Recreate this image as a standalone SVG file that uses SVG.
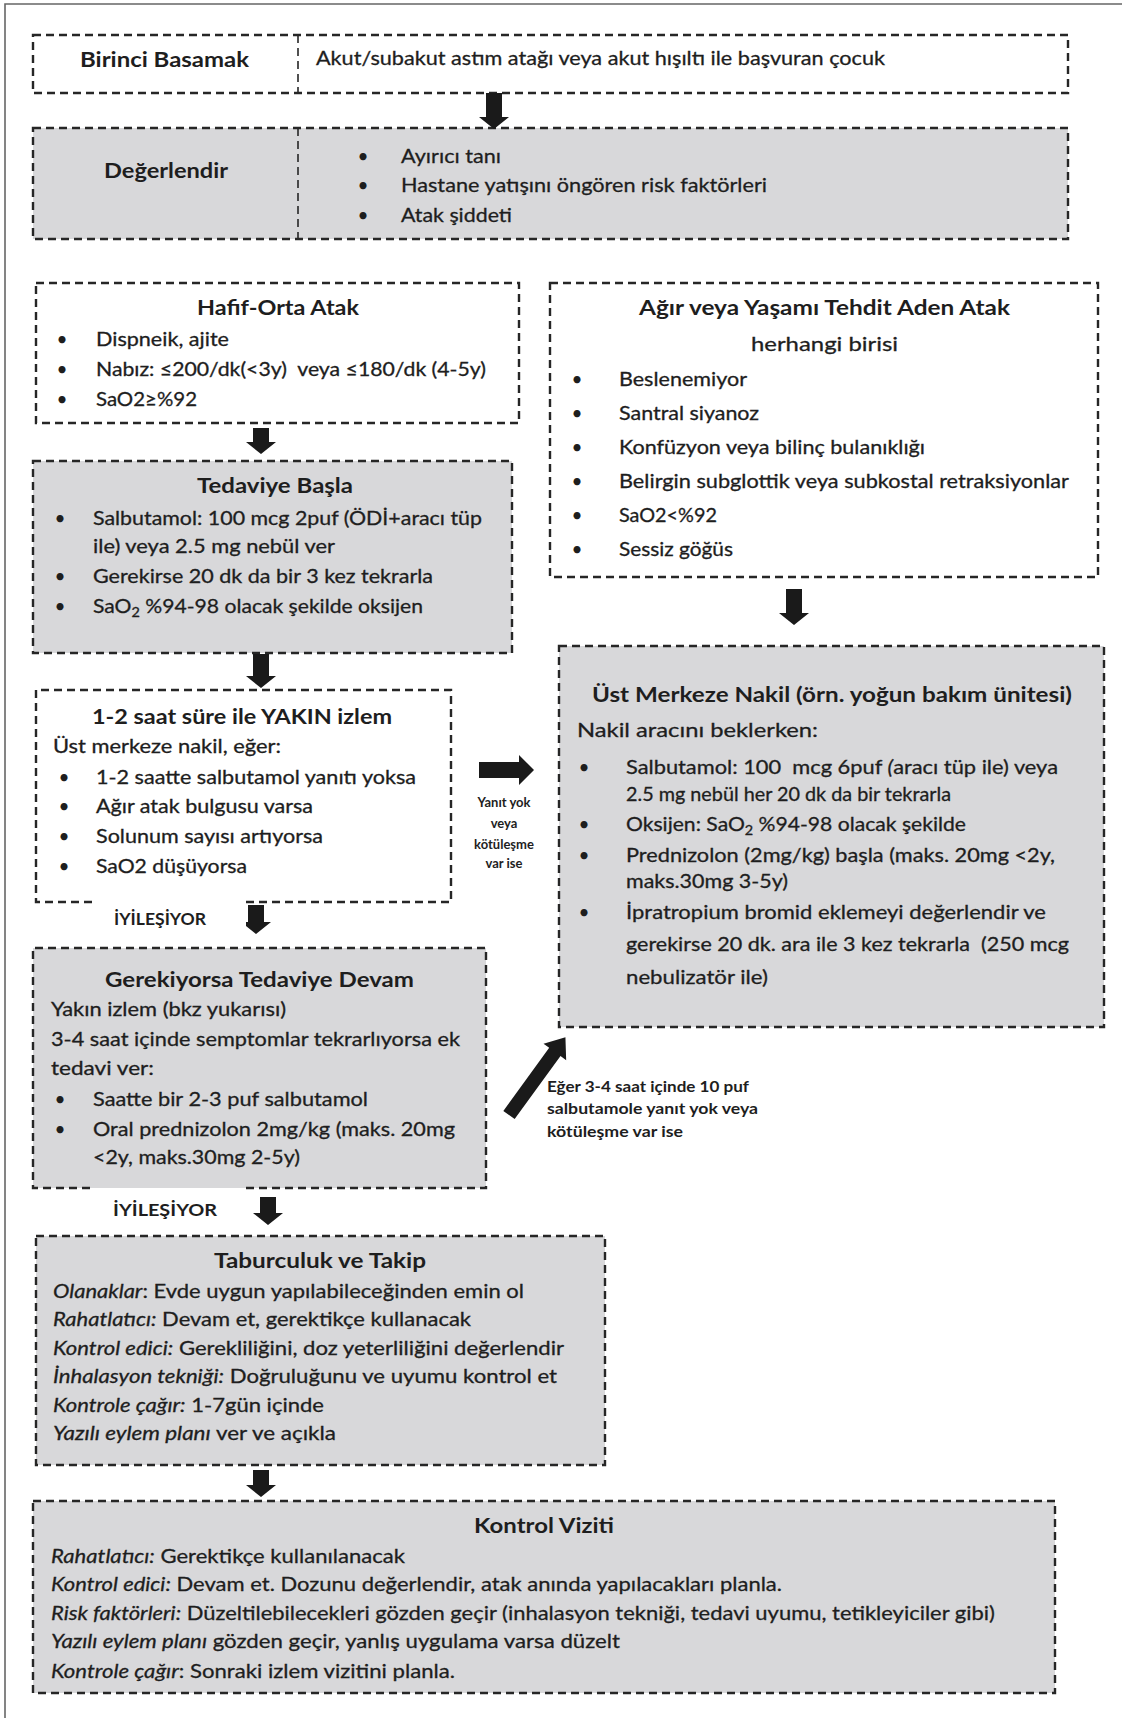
<svg xmlns="http://www.w3.org/2000/svg" width="1122" height="1718" viewBox="0 0 1122 1718">
  <style>
    .frame { fill: none; stroke: #666; stroke-width: 1.6; }
    .box { stroke: #262626; stroke-width: 2.4; stroke-dasharray: 8 5; }
    .plain { fill: #ffffff; }
    .grey { fill: #d8d8da; }
    .edge { fill: none; stroke: #262626; stroke-width: 2.4; stroke-dasharray: 8 5; }
    .fillonly { stroke: none; }
    .div { stroke: #262626; stroke-width: 1.6; stroke-dasharray: 8 5; }
    .arrow { fill: #1a1a1a; }
    text { font-family: Lato, "Open Sans", "Liberation Sans", sans-serif; fill: #1e1e1e; }
    .t { font-size: 19px; stroke: #1e1e1e; stroke-width: 0.3; }
    .tl { font-size: 20px; stroke: #1e1e1e; stroke-width: 0.3; }
    .h { font-size: 21px; font-weight: bold; }
    .bu { font-size: 19px; text-anchor: middle; }
    .i { font-style: italic; }
    .sub { font-size: 13px; }
    .lab { font-size: 13px; font-weight: bold; }
    .lab2 { font-size: 14.5px; font-weight: bold; }
    .lab3 { font-size: 17px; font-weight: bold; }
    .bg { fill: #ffffff; }
  </style>

  <!-- page frame: left and top rule only -->
  <path class="frame" d="M5,1718 V4 H1122"/>

  <g id="nodes">
    <g id="birinci-basamak">
      <rect class="box plain" x="33" y="35" width="1035" height="58"/>
      <line class="div" x1="298" y1="35" x2="298" y2="93"/>
      <text class="h" x="80" y="67" textLength="169" lengthAdjust="spacingAndGlyphs">Birinci Basamak</text>
      <text class="tl" x="316" y="65" textLength="569" lengthAdjust="spacingAndGlyphs">Akut/subakut astım atağı veya akut hışıltı ile başvuran çocuk</text>
    </g>

    <g id="degerlendir">
      <rect class="box grey" x="33" y="128" width="1035" height="111"/>
      <line class="div" x1="298" y1="128" x2="298" y2="239"/>
      <text class="h" x="104" y="178" textLength="124" lengthAdjust="spacingAndGlyphs">Değerlendir</text>
      <text class="bu" x="363" y="163">•</text>
      <text class="bu" x="363" y="192">•</text>
      <text class="bu" x="363" y="222">•</text>
      <text class="tl" x="401" y="163" textLength="100" lengthAdjust="spacingAndGlyphs">Ayırıcı tanı</text>
      <text class="tl" x="401" y="192" textLength="366" lengthAdjust="spacingAndGlyphs">Hastane yatışını öngören risk faktörleri</text>
      <text class="tl" x="401" y="222" textLength="111" lengthAdjust="spacingAndGlyphs">Atak şiddeti</text>
    </g>

    <g id="hafif-orta-atak">
      <rect class="box plain" x="36" y="283" width="483" height="140"/>
      <text class="h" x="197" y="315" textLength="162" lengthAdjust="spacingAndGlyphs">Hafif-Orta Atak</text>
      <text class="bu" x="62" y="346">•</text>
      <text class="bu" x="62" y="376">•</text>
      <text class="bu" x="62" y="406">•</text>
      <text class="t" x="96" y="346" textLength="133" lengthAdjust="spacingAndGlyphs">Dispneik, ajite</text>
      <text class="t" x="96" y="376" textLength="390" lengthAdjust="spacingAndGlyphs" xml:space="preserve">Nabız: ≤200/dk(&lt;3y)  veya ≤180/dk (4-5y)</text>
      <text class="t" x="96" y="406" textLength="101" lengthAdjust="spacingAndGlyphs">SaO2≥%92</text>
    </g>

    <g id="agir-atak">
      <rect class="box plain" x="550" y="283" width="548" height="294"/>
      <text class="h" x="639" y="315" textLength="371" lengthAdjust="spacingAndGlyphs">Ağır veya Yaşamı Tehdit Aden Atak</text>
      <text class="tl" x="751" y="351" textLength="147" lengthAdjust="spacingAndGlyphs">herhangi birisi</text>
      <text class="bu" x="577" y="386">•</text>
      <text class="bu" x="577" y="420">•</text>
      <text class="bu" x="577" y="454">•</text>
      <text class="bu" x="577" y="488">•</text>
      <text class="bu" x="577" y="522">•</text>
      <text class="bu" x="577" y="556">•</text>
      <text class="t" x="619" y="386" textLength="128" lengthAdjust="spacingAndGlyphs">Beslenemiyor</text>
      <text class="t" x="619" y="420" textLength="140" lengthAdjust="spacingAndGlyphs">Santral siyanoz</text>
      <text class="t" x="619" y="454" textLength="306" lengthAdjust="spacingAndGlyphs">Konfüzyon veya bilinç bulanıklığı</text>
      <text class="t" x="619" y="488" textLength="450" lengthAdjust="spacingAndGlyphs">Belirgin subglottik veya subkostal retraksiyonlar</text>
      <text class="t" x="619" y="522" textLength="98" lengthAdjust="spacingAndGlyphs">SaO2&lt;%92</text>
      <text class="t" x="619" y="556" textLength="114" lengthAdjust="spacingAndGlyphs">Sessiz göğüs</text>
    </g>

    <g id="tedaviye-basla">
      <rect class="box grey" x="33" y="461" width="479" height="192"/>
      <text class="h" x="197" y="493" textLength="156" lengthAdjust="spacingAndGlyphs">Tedaviye Başla</text>
      <text class="bu" x="60" y="525">•</text>
      <text class="bu" x="60" y="583">•</text>
      <text class="bu" x="60" y="613">•</text>
      <text class="t" x="93" y="525" textLength="389" lengthAdjust="spacingAndGlyphs">Salbutamol: 100 mcg 2puf (ÖDİ+aracı tüp</text>
      <text class="t" x="93" y="553" textLength="242" lengthAdjust="spacingAndGlyphs">ile) veya 2.5 mg nebül ver</text>
      <text class="t" x="93" y="583" textLength="340" lengthAdjust="spacingAndGlyphs">Gerekirse 20 dk da bir 3 kez tekrarla</text>
      <text class="t" x="93" y="613" textLength="330" lengthAdjust="spacingAndGlyphs">SaO<tspan class="sub" dy="4">2</tspan><tspan dy="-4"> %94-98 olacak şekilde oksijen</tspan></text>
    </g>

    <g id="yakin-izlem">
      <rect class="plain fillonly" x="36" y="690" width="415" height="212"/>
      <path class="edge" d="M246,902 H451 V690 H36 V902 H96"/>
      <text class="h" x="92" y="724" textLength="300" lengthAdjust="spacingAndGlyphs">1-2 saat süre ile YAKIN izlem</text>
      <text class="t" x="53" y="753" textLength="228" lengthAdjust="spacingAndGlyphs">Üst merkeze nakil, eğer:</text>
      <text class="bu" x="64" y="784">•</text>
      <text class="bu" x="64" y="813">•</text>
      <text class="bu" x="64" y="843">•</text>
      <text class="bu" x="64" y="873">•</text>
      <text class="t" x="96" y="784" textLength="320" lengthAdjust="spacingAndGlyphs">1-2 saatte salbutamol yanıtı yoksa</text>
      <text class="t" x="96" y="813" textLength="217" lengthAdjust="spacingAndGlyphs">Ağır atak bulgusu varsa</text>
      <text class="t" x="96" y="843" textLength="227" lengthAdjust="spacingAndGlyphs">Solunum sayısı artıyorsa</text>
      <text class="t" x="96" y="873" textLength="151" lengthAdjust="spacingAndGlyphs">SaO2 düşüyorsa</text>
    </g>

    <g id="ust-merkeze-nakil">
      <rect class="box grey" x="559" y="646" width="545" height="381"/>
      <text class="h" x="592" y="702" textLength="480" lengthAdjust="spacingAndGlyphs">Üst Merkeze Nakil (örn. yoğun bakım ünitesi)</text>
      <text class="tl" x="577" y="737" textLength="241" lengthAdjust="spacingAndGlyphs">Nakil aracını beklerken:</text>
      <text class="bu" x="584" y="774">•</text>
      <text class="bu" x="584" y="831">•</text>
      <text class="bu" x="584" y="862">•</text>
      <text class="bu" x="584" y="919">•</text>
      <text class="t" x="626" y="774" textLength="432" lengthAdjust="spacingAndGlyphs" xml:space="preserve">Salbutamol: 100  mcg 6puf <tspan class="i">(</tspan>aracı tüp ile) veya</text>
      <text class="t" x="626" y="801" textLength="325" lengthAdjust="spacingAndGlyphs">2.5 mg nebül her 20 dk da bir tekrarla</text>
      <text class="t" x="626" y="831" textLength="340" lengthAdjust="spacingAndGlyphs">Oksijen: SaO<tspan class="sub" dy="4">2</tspan><tspan dy="-4"> %94-98 olacak şekilde</tspan></text>
      <text class="t" x="626" y="862" textLength="429" lengthAdjust="spacingAndGlyphs">Prednizolon (2mg/kg) başla (maks. 20mg &lt;2y,</text>
      <text class="t" x="626" y="888" textLength="162" lengthAdjust="spacingAndGlyphs">maks.30mg 3-5y)</text>
      <text class="t" x="626" y="919" textLength="420" lengthAdjust="spacingAndGlyphs">İpratropium bromid eklemeyi değerlendir ve</text>
      <text class="t" x="626" y="951" textLength="443" lengthAdjust="spacingAndGlyphs" xml:space="preserve">gerekirse 20 dk. ara ile 3 kez tekrarla  (250 mcg</text>
      <text class="t" x="626" y="984" textLength="142" lengthAdjust="spacingAndGlyphs">nebulizatör ile)</text>
    </g>

    <g id="tedaviye-devam">
      <rect class="grey fillonly" x="33" y="948" width="453" height="240"/>
      <path class="edge" d="M246,1188 H486 V948 H33 V1188 H92"/>
      <text class="h" x="105" y="987" textLength="309" lengthAdjust="spacingAndGlyphs">Gerekiyorsa Tedaviye Devam</text>
      <text class="t" x="51" y="1016" textLength="235" lengthAdjust="spacingAndGlyphs">Yakın izlem (bkz yukarısı)</text>
      <text class="t" x="51" y="1046" textLength="409" lengthAdjust="spacingAndGlyphs">3-4 saat içinde semptomlar tekrarlıyorsa ek</text>
      <text class="t" x="51" y="1075" textLength="103" lengthAdjust="spacingAndGlyphs">tedavi ver:</text>
      <text class="bu" x="60" y="1106">•</text>
      <text class="bu" x="60" y="1136">•</text>
      <text class="t" x="93" y="1106" textLength="275" lengthAdjust="spacingAndGlyphs">Saatte bir 2-3 puf salbutamol</text>
      <text class="t" x="93" y="1136" textLength="362" lengthAdjust="spacingAndGlyphs">Oral prednizolon 2mg/kg (maks. 20mg</text>
      <text class="t" x="93" y="1164" textLength="207" lengthAdjust="spacingAndGlyphs">&lt;2y, maks.30mg 2-5y)</text>
    </g>

    <g id="taburculuk">
      <rect class="box grey" x="36" y="1236" width="569" height="229"/>
      <text class="h" x="214" y="1268" textLength="212" lengthAdjust="spacingAndGlyphs">Taburculuk ve Takip</text>
      <text class="t" x="53" y="1298" textLength="471" lengthAdjust="spacingAndGlyphs"><tspan class="i">Olanaklar</tspan>: Evde uygun yapılabileceğinden emin ol</text>
      <text class="t" x="53" y="1326" textLength="418" lengthAdjust="spacingAndGlyphs"><tspan class="i">Rahatlatıcı:</tspan> Devam et, gerektikçe kullanacak</text>
      <text class="t" x="53" y="1355" textLength="511" lengthAdjust="spacingAndGlyphs"><tspan class="i">Kontrol edici:</tspan> Gerekliliğini, doz yeterliliğini değerlendir</text>
      <text class="t" x="53" y="1383" textLength="504" lengthAdjust="spacingAndGlyphs"><tspan class="i">İnhalasyon tekniği:</tspan> Doğruluğunu ve uyumu kontrol et</text>
      <text class="t" x="53" y="1412" textLength="271" lengthAdjust="spacingAndGlyphs"><tspan class="i">Kontrole çağır:</tspan> 1-7gün içinde</text>
      <text class="t" x="53" y="1440" textLength="283" lengthAdjust="spacingAndGlyphs"><tspan class="i">Yazılı eylem planı</tspan> ver ve açıkla</text>
    </g>

    <g id="kontrol-viziti">
      <rect class="box grey" x="33" y="1501" width="1022" height="192"/>
      <text class="h" x="474" y="1533" textLength="140" lengthAdjust="spacingAndGlyphs">Kontrol Viziti</text>
      <text class="tl" x="51" y="1563" textLength="354" lengthAdjust="spacingAndGlyphs"><tspan class="i">Rahatlatıcı:</tspan> Gerektikçe kullanılanacak</text>
      <text class="tl" x="51" y="1591" textLength="731" lengthAdjust="spacingAndGlyphs"><tspan class="i">Kontrol edici:</tspan> Devam et. Dozunu değerlendir, atak anında yapılacakları planla.</text>
      <text class="tl" x="51" y="1620" textLength="944" lengthAdjust="spacingAndGlyphs"><tspan class="i">Risk faktörleri:</tspan> Düzeltilebilecekleri gözden geçir (inhalasyon tekniği, tedavi uyumu, tetikleyiciler gibi)</text>
      <text class="tl" x="51" y="1648" textLength="569" lengthAdjust="spacingAndGlyphs"><tspan class="i">Yazılı eylem planı</tspan> gözden geçir, yanlış uygulama varsa düzelt</text>
      <text class="tl" x="51" y="1678" textLength="404" lengthAdjust="spacingAndGlyphs"><tspan class="i">Kontrole çağır</tspan>: Sonraki izlem vizitini planla.</text>
    </g>
  </g>

  <g id="connectors">
    <polygon class="arrow" points="486,93 502,93 502,117 509,117 494,129 479,117 486,117"/>
    <polygon class="arrow" points="253,428 269,428 269,442 276,442 261,454 246,442 253,442"/>
    <polygon class="arrow" points="253,654 269,654 269,676 276,676 261,688 246,676 253,676"/>
    <polygon class="arrow" points="786,589 802,589 802,613 809,613 794,625 779,613 786,613"/>
    <polygon class="arrow" points="248,905 264,905 264,922 271,922 256,934 241,922 248,922"/>
    <polygon class="arrow" points="260,1197 276,1197 276,1213 283,1213 268,1225 253,1213 260,1213"/>
    <polygon class="arrow" points="253,1470 269,1470 269,1485 276,1485 261,1497 246,1485 253,1485"/>
    <polygon class="arrow" points="479,762 519,762 519,755 534,770 519,785 519,778 479,778"/>
    <polygon class="arrow" transform="translate(509,1115) rotate(-54)" points="0,-7 78,-7 78,-14 96,0 78,14 78,7 0,7"/>
  </g>

  <g id="labels">
    <g id="label-iyilesiyor-1">
      <rect class="bg" x="92" y="899" width="154" height="42"/>
      <text class="lab3" x="114" y="925" textLength="92" lengthAdjust="spacingAndGlyphs">İYİLEŞİYOR</text>
    </g>
    <g id="label-yanit-yok">
      <text class="lab" x="504" y="807" text-anchor="middle">Yanıt yok</text>
      <text class="lab" x="504" y="828" text-anchor="middle">veya</text>
      <text class="lab" x="504" y="849" text-anchor="middle">kötüleşme</text>
      <text class="lab" x="504" y="868" text-anchor="middle">var ise</text>
    </g>
    <g id="label-eger">
      <text class="lab2" x="547" y="1092" textLength="202" lengthAdjust="spacingAndGlyphs">Eğer 3-4 saat içinde 10 puf</text>
      <text class="lab2" x="547" y="1114" textLength="211" lengthAdjust="spacingAndGlyphs">salbutamole yanıt yok veya</text>
      <text class="lab2" x="547" y="1137" textLength="136" lengthAdjust="spacingAndGlyphs">kötüleşme var ise</text>
    </g>
    <g id="label-iyilesiyor-2">
      <text class="lab3" x="113" y="1216" textLength="104" lengthAdjust="spacingAndGlyphs">İYİLEŞİYOR</text>
    </g>
  </g>
</svg>
